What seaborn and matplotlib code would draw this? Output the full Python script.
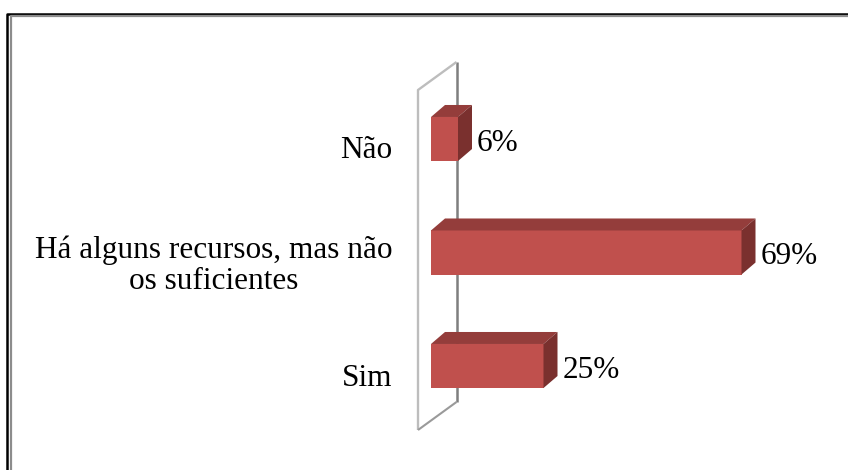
import matplotlib
matplotlib.use("Agg")
import matplotlib.pyplot as plt
import seaborn as sns
import pandas as pd
from matplotlib.patches import Polygon
from matplotlib.lines import Line2D
from matplotlib.transforms import IdentityTransform, ScaledTranslation

categories = ["Não", "Há alguns recursos, mas não\nos suficientes", "Sim"]
percentages = [6, 69, 25]

FRONT = "#C0504D"
TOP = "#943D3B"
SIDE = "#7A302E"
DEPTH_X, DEPTH_Y = 14, 12  # pixel offset of the bar depth

W, H = 848, 470
sns.set_theme(style="white")
plt.rcParams["font.family"] = ["Liberation Serif", "DejaVu Serif"]

fig = plt.figure(figsize=(W / 100, H / 100), dpi=100)
ax = fig.add_axes([431 / W, (H - 422.75) / H, 360 / W, 340.5 / H])

df = pd.DataFrame({"categoria": categories, "pct": percentages})
sns.barplot(data=df, x="pct", y="categoria", orient="h", color=FRONT,
            saturation=1, width=0.388, linewidth=0, ax=ax, zorder=2)

ax.set_xlim(0, 80)
ax.set_ylim(2.5, -0.5)
ax.set_xlabel("")
ax.set_ylabel("")
ax.set_xticks([])
for s in ax.spines.values():
    s.set_visible(False)
ax.tick_params(axis="y", length=0, pad=28, labelsize=22.5, labelcolor="black")
for lab in ax.get_yticklabels():
    lab.set_multialignment("center")
    lab.set_linespacing(1.1)
    lab.set_transform(lab.get_transform() + ScaledTranslation(0, -8.5 / 100, fig.dpi_scale_trans))

# top and side faces of each bar, derived from the drawn bar geometry
for p in list(ax.patches):
    x0, y0 = p.get_x(), p.get_y()
    x1, y1 = x0 + p.get_width(), y0 + p.get_height()
    (dx0, dyt), (dx1, dyb) = ax.transData.transform([(x0, y0), (x1, y1)])
    top_y = max(dyt, dyb)
    bot_y = min(dyt, dyb)
    top = [(dx0, top_y), (dx1, top_y), (dx1 + DEPTH_X, top_y + DEPTH_Y), (dx0 + DEPTH_X, top_y + DEPTH_Y)]
    side = [(dx1, top_y), (dx1 + DEPTH_X, top_y + DEPTH_Y), (dx1 + DEPTH_X, bot_y + DEPTH_Y), (dx1, bot_y)]
    ax.add_patch(Polygon(top, closed=True, facecolor=TOP, edgecolor="none",
                         transform=IdentityTransform(), clip_on=False, zorder=2))
    ax.add_patch(Polygon(side, closed=True, facecolor=SIDE, edgecolor="none",
                         transform=IdentityTransform(), clip_on=False, zorder=2))

labels = ax.bar_label(ax.containers[0], fmt="{:.0f}%", padding=13.5, fontsize=22.5, color="black")
for t in labels:
    ox, oy = t.xyann
    t.xyann = (ox, oy - 3)


def fig_pt(x, y):
    return x / W, 1 - y / H


def fig_line(xs, ys, color, lw, z, target):
    pts = [fig_pt(x, y) for x, y in zip(xs, ys)]
    ln = Line2D([p[0] for p in pts], [p[1] for p in pts], color=color, lw=lw,
                transform=fig.transFigure, clip_on=False, zorder=z,
                solid_capstyle="butt")
    target.add_artist(ln) if target is fig else target.add_line(ln)


# back wall of the 3-D plot area
fig_line([456.5, 456.5], [62, 402], "#7F7F7F", 1.8, 1, ax)
fig_line([418, 418, 456.5], [430, 90, 62], "#BDBDBD", 1.7, 1, ax)
fig_line([418, 456.5], [430, 402], "#9A9A9A", 1.5, 1, ax)

# outer frame
fig_line([7, 7, W], [H, 13.5, 13.5], "black", 1.8, 5, fig)
fig_line([10.5, 10.5, W], [H, 16, 16], "#8C8C8C", 1.6, 5, fig)

fig.savefig("out.png", dpi=100, facecolor="white")
